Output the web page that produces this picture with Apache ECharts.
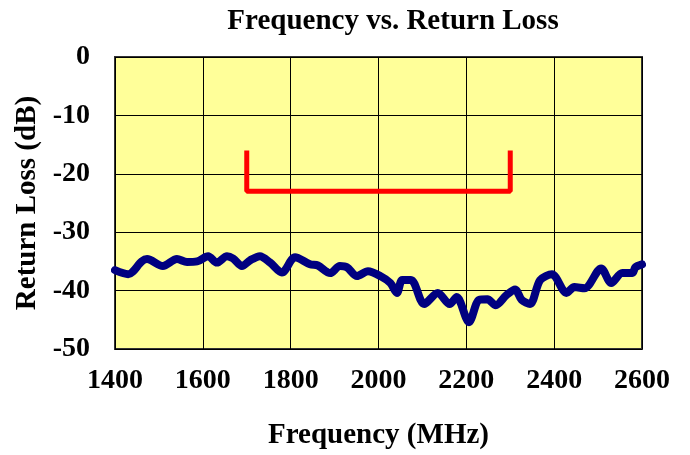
<!DOCTYPE html>
<html>
<head>
<meta charset="utf-8">
<script src="https://cdn.jsdelivr.net/npm/echarts@6/dist/echarts.min.js"></script>
<style>
  html, body { margin: 0; padding: 0; background: #fff; }
  #chart { width: 690px; height: 455px; }
</style>
</head>
<body>
<div id="chart"></div>
<script>
// measured curve (MHz, dB)
var freqs = [1400, 1430, 1461, 1473, 1509, 1541, 1564, 1587, 1612, 1632, 1655, 1669, 1689, 1708, 1730, 1753, 1780,
  1810, 1844, 1862, 1890, 1912, 1928, 1951, 1976, 2004, 2027, 2042, 2054, 2074, 2104, 2135, 2162, 2178, 2206,
  2229, 2248, 2267, 2291, 2311, 2326, 2345, 2368, 2395, 2428, 2446, 2469, 2507, 2530, 2555, 2578, 2585, 2600];
var returnLoss = [-36.5, -37.2, -35.0, -34.6, -35.8, -34.6, -35.1, -35.0, -34.1, -35.2, -34.1, -34.5, -35.8, -34.8, -34.1, -35.2, -36.9,
  -34.3, -35.5, -35.7, -37.0, -35.8, -36.0, -37.5, -36.7, -37.5, -38.7, -40.4, -38.2, -38.2, -42.3, -40.4, -42.3, -41.1, -45.4,
  -41.6, -41.5, -42.5, -40.8, -39.8, -41.6, -42.3, -38.2, -37.2, -40.4, -39.4, -39.6, -36.2, -38.7, -37.0, -37.0, -36.0, -35.5];

// spec mask (red bracket)
var specFreq = [1700, 1700, 2300, 2300];
var specLoss = [-16, -23, -23, -16];

var xTicks = [1400, 1600, 1800, 2000, 2200, 2400, 2600];
var yTicks = [0, -10, -20, -30, -40, -50];

var font = "'Liberation Serif', 'Times New Roman', serif";

var chart = echarts.init(document.getElementById('chart'));
var option = {
  backgroundColor: '#fff',
  animation: false,
  title: {
    text: 'Frequency vs. Return Loss',
    left: 388,
    top: 2,
    textAlign: 'center',
    textStyle: { fontFamily: font, fontWeight: 'bold', fontSize: 29, color: '#000' }
  },
  grid: {
    left: 115, right: 48, top: 57, bottom: 105,
    show: true,
    backgroundColor: '#FFFF99',
    borderColor: '#333',
    borderWidth: 2
  },
  xAxis: {
    type: 'value',
    min: xTicks[0],
    max: xTicks[xTicks.length - 1],
    interval: 200,
    name: 'Frequency (MHz)',
    nameLocation: 'middle',
    nameGap: 72,
    nameTextStyle: { fontFamily: font, fontWeight: 'bold', fontSize: 29, color: '#000' },
    axisLine: { show: false },
    axisTick: { show: false },
    axisLabel: {
      fontFamily: font, fontWeight: 'bold', fontSize: 28, color: '#000', margin: 18,
      formatter: function (v) { return String(v); }
    },
    splitLine: { show: true, lineStyle: { color: '#000', width: 1 } }
  },
  yAxis: {
    type: 'value',
    min: yTicks[yTicks.length - 1],
    max: yTicks[0],
    interval: 10,
    name: 'Return Loss (dB)',
    nameLocation: 'middle',
    nameGap: 68,
    nameTextStyle: { fontFamily: font, fontWeight: 'bold', fontSize: 29, color: '#000' },
    axisLine: { show: false },
    axisTick: { show: false },
    axisLabel: { fontFamily: font, fontWeight: 'bold', fontSize: 28, color: '#000', margin: 25 },
    splitLine: { show: true, lineStyle: { color: '#000', width: 1 } }
  },
  series: [
    {
      type: 'line',
      data: specFreq.map(function (f, i) { return [f, specLoss[i]]; }),
      symbol: 'none',
      lineStyle: { color: '#FF0000', width: 5 }
    },
    {
      type: 'line',
      data: freqs.map(function (f, i) { return [f, returnLoss[i]]; }),
      symbol: 'none',
      smooth: 0.3,
      lineStyle: { color: '#000080', width: 8, cap: 'round', join: 'round' }
    }
  ]
};
chart.setOption(option);
</script>
</body>
</html>
